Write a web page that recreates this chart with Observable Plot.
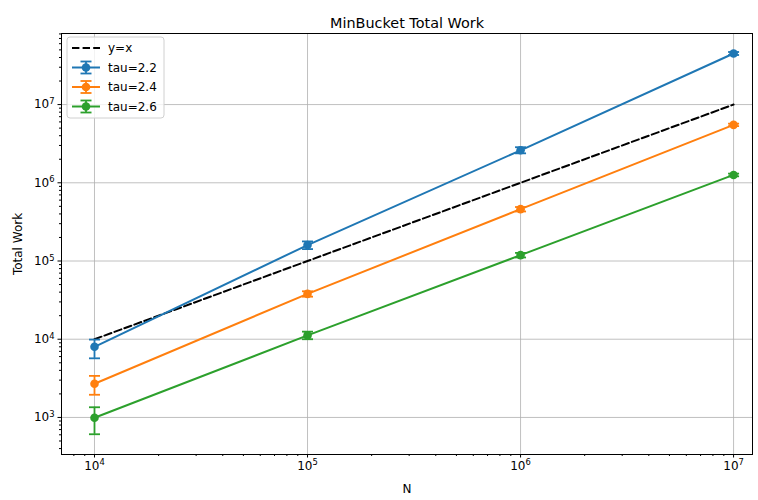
<!DOCTYPE html>
<html>
<head>
<meta charset="utf-8">
<script src="https://cdn.jsdelivr.net/npm/d3@7"></script>
<script src="https://cdn.jsdelivr.net/npm/@observablehq/plot@0.6"></script>
<style>
  body { margin: 0; background: #fff; }
  #chart svg { display: block; }
</style>
</head>
<body>
<div id="chart"></div>
<script>
// Problem sizes (N) and the three power-law exponents
const sizes = [1e4, 1e5, 1e6, 1e7];
const taus = ["tau=2.2", "tau=2.4", "tau=2.6"];
const colors = ["#1f77b4", "#ff7f0e", "#2ca02c"];

// Mean total work per N, with lower / upper error-bar ends
const work22 = [8000, 160000, 2.6e6, 4.5e7];
const low22  = [5700, 142000, 2.38e6, 4.3e7];
const high22 = [9900, 178000, 2.85e6, 4.7e7];

const work24 = [2700, 38000, 460000, 5.5e6];
const low24  = [1950, 35000, 430000, 5.3e6];
const high24 = [3400, 41000, 490000, 5.7e6];

const work26 = [990, 11200, 119000, 1.26e6];
const low26  = [610, 10000, 111000, 1.21e6];
const high26 = [1350, 12500, 127000, 1.31e6];

const series = [
  {tau: taus[0], work: work22, low: low22, high: high22},
  {tau: taus[1], work: work24, low: low24, high: high24},
  {tau: taus[2], work: work26, low: low26, high: high26}
];
const rows = series.flatMap(s => sizes.map((n, i) => ({
  n, tau: s.tau, work: s.work[i], lo: s.low[i], hi: s.high[i]
})));
const identity = sizes.map(n => ({n, work: n}));

// Log-axis ticks
const majorX = [1e4, 1e5, 1e6, 1e7];
const majorY = [1e3, 1e4, 1e5, 1e6, 1e7];
const minors = (lo, hi) => d3.range(lo, hi + 1).flatMap(k => d3.range(2, 10).map(m => m * 10 ** k));
const minorX = minors(3, 7).filter(v => v > 7000 && v < 1.227e7);
const minorY = minors(2, 7).filter(v => v > 336 && v < 8.1e7);
const exponent = v => String(Math.round(Math.log10(v)));

// Horizontal error-bar cap drawn as a dot symbol
const cap = {
  draw(context, size) {
    const h = Math.sqrt(size / Math.PI);
    context.moveTo(-h, 0);
    context.lineTo(h, 0);
  }
};

const font = "DejaVu Sans, sans-serif";

const chart = Plot.plot({
  width: 758,
  height: 500,
  marginLeft: 61,
  marginRight: 6,
  marginTop: 33,
  marginBottom: 46,
  style: {fontFamily: font, fontSize: "12px", color: "#000", background: "#fff"},
  x: {type: "log", domain: [7000, 1.227e7]},
  y: {type: "log", domain: [336, 8.1e7]},
  color: {domain: taus, range: colors},
  marks: [
    Plot.gridX(majorX, {stroke: "#b0b0b0", strokeOpacity: 1, strokeWidth: 0.8}),
    Plot.gridY(majorY, {stroke: "#b0b0b0", strokeOpacity: 1, strokeWidth: 0.8}),
    Plot.line(identity, {x: "n", y: "work", stroke: "black", strokeWidth: 2, strokeDasharray: "7.4,3.2"}),
    Plot.ruleX(rows, {x: "n", y1: "lo", y2: "hi", stroke: "tau", strokeWidth: 1.8}),
    Plot.dot(rows, {x: "n", y: "lo", symbol: cap, r: 5.5, stroke: "tau", fill: "none", strokeWidth: 1.8}),
    Plot.dot(rows, {x: "n", y: "hi", symbol: cap, r: 5.5, stroke: "tau", fill: "none", strokeWidth: 1.8}),
    Plot.line(rows, {x: "n", y: "work", z: "tau", stroke: "tau", strokeWidth: 2}),
    Plot.dot(rows, {x: "n", y: "work", fill: "tau", r: 4.3}),
    Plot.axisX(minorX, {tickSize: 2, tickFormat: () => "", label: null}),
    Plot.axisY(minorY, {tickSize: 2, tickFormat: () => "", label: null}),
    Plot.axisX(majorX, {tickSize: 3.5, tickPadding: 3, tickFormat: exponent, fontSize: 12,
      label: "N", labelAnchor: "center", labelArrow: "none", labelOffset: 38}),
    Plot.axisY(majorY, {tickSize: 3.5, tickPadding: 3.5, tickFormat: exponent, fontSize: 12,
      label: "Total Work", labelAnchor: "center", labelArrow: "none", labelOffset: 48}),
    Plot.frame({stroke: "black", strokeWidth: 1}),
    Plot.text(["MinBucket Total Work"], {frameAnchor: "top", dy: -16, fontSize: 14.4, fill: "black"})
  ]
});

// Major tick labels as 10 with a raised exponent
const svg = d3.select(chart);
svg.selectAll('g[aria-label="x-axis tick label"] text, g[aria-label="y-axis tick label"] text')
  .each(function () {
    const t = d3.select(this);
    const e = t.text();
    if (!e) return;
    t.text("");
    t.append("tspan").text("10");
    t.append("tspan").attr("font-size", "8.4px").attr("dy", "-0.5em").text(e);
  });

// Legend in the upper-left corner of the frame
const lg = svg.append("g").attr("transform", "translate(67,37)")
  .attr("font-family", font).attr("font-size", 12).attr("text-anchor", "start");
lg.append("rect").attr("width", 97).attr("height", 81).attr("rx", 3)
  .attr("fill", "white").attr("fill-opacity", 0.8).attr("stroke", "#d0d0d0");
const entries = [{label: "y=x", color: "black", dashed: true}]
  .concat(taus.map((t, i) => ({label: t, color: colors[i]})));
entries.forEach((e, i) => {
  const y = 11 + i * 19.5;
  const g = lg.append("g").attr("transform", `translate(0,${y})`);
  g.append("line").attr("x1", 5).attr("x2", 33).attr("stroke", e.color).attr("stroke-width", 2)
    .attr("stroke-dasharray", e.dashed ? "7.4,3.2" : null);
  if (!e.dashed) {
    g.append("line").attr("x1", 19).attr("x2", 19).attr("y1", -6).attr("y2", 6).attr("stroke", e.color).attr("stroke-width", 1.8);
    g.append("line").attr("x1", 13.5).attr("x2", 24.5).attr("y1", -6).attr("y2", -6).attr("stroke", e.color).attr("stroke-width", 1.8);
    g.append("line").attr("x1", 13.5).attr("x2", 24.5).attr("y1", 6).attr("y2", 6).attr("stroke", e.color).attr("stroke-width", 1.8);
    g.append("circle").attr("cx", 19).attr("r", 4.3).attr("fill", e.color);
  }
  g.append("text").attr("x", 41).attr("dy", "0.35em").attr("fill", "black").text(e.label);
});

document.getElementById("chart").append(chart);
</script>
</body>
</html>
